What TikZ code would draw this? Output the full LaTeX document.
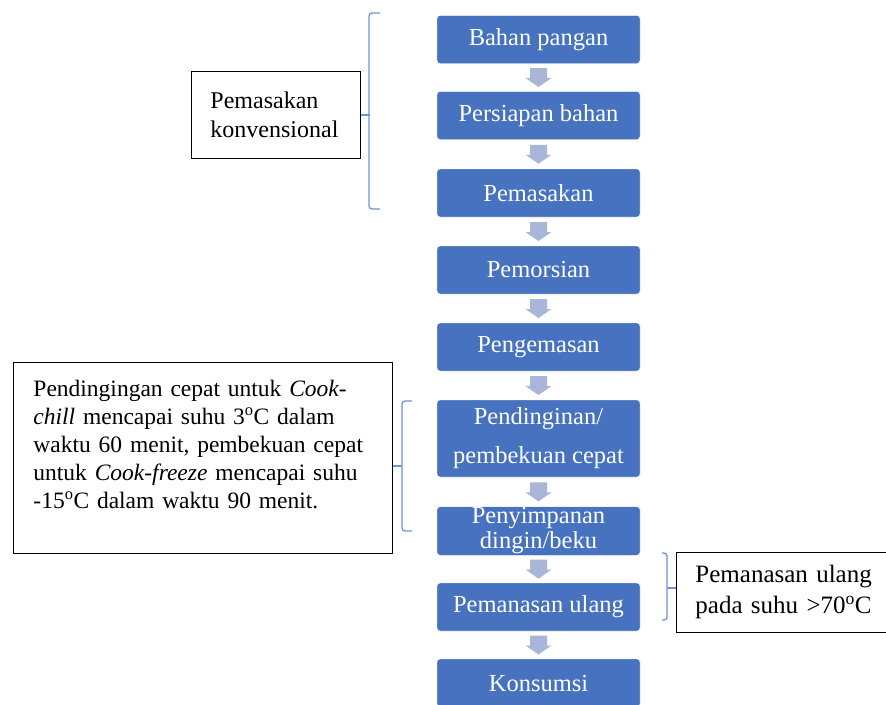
\documentclass[tikz,border=0pt]{standalone}
\usepackage{fontspec}
\setmainfont{Liberation Serif}
\usetikzlibrary{calc}
\definecolor{stepblue}{HTML}{4672C0}
\definecolor{flowgrey}{HTML}{A9B6DA}
\definecolor{braceblue}{HTML}{6F93CF}
\tikzset{%
    stepbox/.style={%
        rectangle,%
        rounded corners=3pt,%
        fill=stepblue,%
        draw=white,%
        text=white,%
        minimum width=203pt,%
        minimum height=48pt,%
        inner sep=1pt,%
        align=center,%
        font=\fontsize{24.5}{26}\selectfont%
    },%
    notebox/.style={%
        rectangle,%
        draw=black,%
        line width=0.9pt,%
        anchor=north west,%
        align=left,%
        inner xsep=19pt,%
        font=\fontsize{23.5}{28}\selectfont%
    },%
    bracket/.style={%
        braceblue,%
        line width=1.3pt,%
        rounded corners=3pt%
    }%
}
\newcommand{\flowarrow}[2]{%
    \fill[flowgrey] ($(#1.south)!0.5!(#2.north)$) ++(-8.5,-9.5) -- ++(17,0) -- ++(0,10)
        -- ++(4.5,0) -- ++(-13,9) -- ++(-13,-9) -- ++(4.5,0) -- cycle;%
}
\begin{document}
\begin{tikzpicture}[x=1pt,y=-1pt]
    \useasboundingbox (0,0) rectangle (886,704);
    \node (bahan) [stepbox] at (538.5,39.5) {Bahan pangan};
    \node (persiapan) [stepbox] at (538.5,115.5) {Persiapan bahan};
    \node (pemasakan) [stepbox] at (538.5,193) {Pemasakan};
    \node (pemorsian) [stepbox] at (538.5,270) {Pemorsian};
    \node (pengemasan) [stepbox] at (538.5,347) {Pengemasan};
    \node (pendinginan) [stepbox, minimum height=77pt,
        font=\fontsize{24.5}{39}\selectfont] at (538.5,438.5)
        {Pendinginan/\\pembekuan cepat};
    \node (penyimpanan) [stepbox, font=\fontsize{24.5}{25}\selectfont]
        at (538.5,531) {Penyimpanan\\dingin/beku};
    \node (pemanasan) [stepbox] at (538.5,607) {Pemanasan ulang};
    \node (konsumsi) [stepbox] at (538.5,683) {Konsumsi};
    \flowarrow{bahan}{persiapan}
    \flowarrow{persiapan}{pemasakan}
    \flowarrow{pemasakan}{pemorsian}
    \flowarrow{pemorsian}{pengemasan}
    \flowarrow{pengemasan}{pendinginan}
    \flowarrow{pendinginan}{penyimpanan}
    \flowarrow{penyimpanan}{pemanasan}
    \flowarrow{pemanasan}{konsumsi}
    \node (konv) [notebox, minimum width=169pt, minimum height=87pt,
        text width=131pt, font=\fontsize{24}{29}\selectfont] at (191,71)
        {Pemasakan\\konvensional};
    \node (chill) [notebox, minimum width=379pt, minimum height=191pt,
        inner xsep=20pt, text width=339pt] at (13,362)
        {Pendingingan cepat untuk \textit{Cook-}\\
        \textit{chill} mencapai suhu 3\textsuperscript{o}C dalam\\
        waktu 60 menit, pembekuan cepat\\
        untuk \textit{Cook-freeze} mencapai suhu\\
        -15\textsuperscript{o}C dalam waktu 90 menit.\\
        \mbox{}};
    \node (reheat) [notebox, minimum width=224pt, minimum height=80pt,
        text width=186pt, font=\fontsize{25}{31}\selectfont] at (676,552)
        {Pemanasan ulang\\pada suhu >70\textsuperscript{o}C};
    % braces
    \draw[bracket] (380,13) -| (369,209) -- (380,209);
    \draw[bracket] (konv.east) -- ++(9,0);
    \draw[bracket] (412,401) -| (402,531) -- (412,531);
    \draw[bracket] (402,466) -- (chill.east |- 0,466);
    \draw[bracket] (662,553) -| (667,620) -- (662,620);
    \draw[bracket] (667,588) -- (reheat.west |- 0,588);
\end{tikzpicture}
\end{document}
